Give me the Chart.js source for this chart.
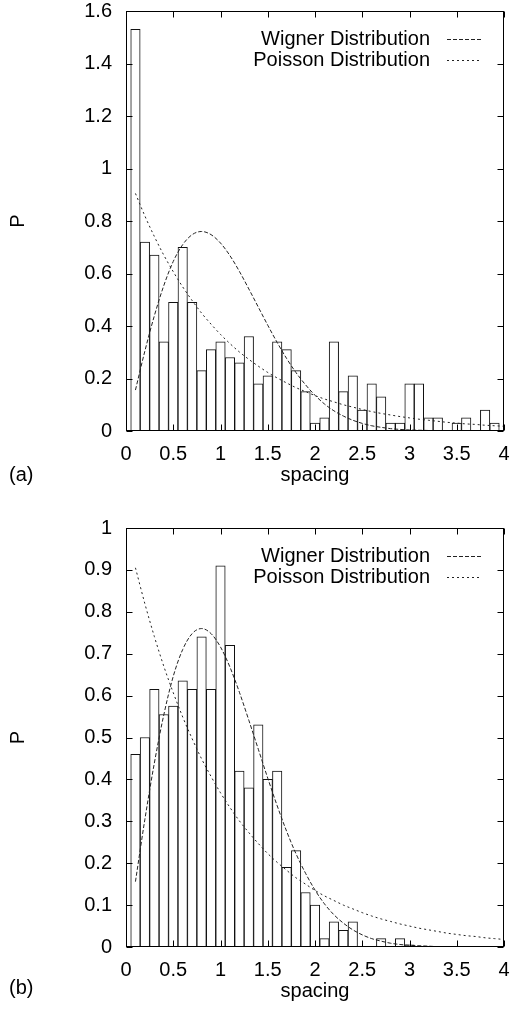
<!DOCTYPE html>
<html>
<head>
<meta charset="utf-8">
<script src="https://cdn.jsdelivr.net/npm/chart.js@4.4.1/dist/chart.umd.min.js"></script>
<style>
  body { margin: 0; background: #fff; width: 512px; height: 1011px; position: relative; overflow: hidden; }
  canvas { position: absolute; left: 0; }
  #chartA { top: 0; }
  #chartB { top: 500px; }
  .tag { position: absolute; left: 9px; font: 20px/24px "Liberation Sans", Arial, sans-serif; color: #000; }
</style>
</head>
<body>
<canvas id="chartA" width="512" height="500"></canvas>
<canvas id="chartB" width="512" height="511"></canvas>
<div class="tag" style="top:462px">(a)</div>
<div class="tag" style="top:975px">(b)</div>
<script>
// histogram bin centres (bin width 0.1)
const binCenters = [0.1, 0.2, 0.3, 0.4, 0.5, 0.6, 0.7, 0.8, 0.9, 1.0,
                    1.1, 1.2, 1.3, 1.4, 1.5, 1.6, 1.7, 1.8, 1.9, 2.0,
                    2.1, 2.2, 2.3, 2.4, 2.5, 2.6, 2.7, 2.8, 2.9, 3.0,
                    3.1, 3.2, 3.3, 3.4, 3.5, 3.6, 3.7, 3.8, 3.9];

// panel (a) histogram
const histA = [1.53, 0.72, 0.67, 0.34, 0.49, 0.70, 0.49, 0.23, 0.31, 0.34,
               0.28, 0.26, 0.36, 0.18, 0.21, 0.34, 0.31, 0.23, 0.15, 0.03,
               0.05, 0.34, 0.15, 0.21, 0.08, 0.18, 0.13, 0.03, 0.03, 0.18,
               0.18, 0.05, 0.05, 0, 0.03, 0.05, 0, 0.08, 0.03];

// panel (b) histogram
const histB = [0.46, 0.50, 0.615, 0.555, 0.575, 0.635, 0.615, 0.74, 0.615, 0.91,
               0.72, 0.42, 0.38, 0.53, 0.40, 0.42, 0.19, 0.23, 0.13, 0.10,
               0.02, 0.06, 0.04, 0.06, 0, 0, 0.02, 0, 0.02, 0.005,
               0, 0, 0, 0, 0, 0, 0, 0, 0];

// reference curves, read at spacing 0.1 .. 4.0
const curveS = [0.1, 0.2, 0.3, 0.4, 0.5, 0.6, 0.7, 0.8, 0.9, 1.0,
                1.1, 1.2, 1.3, 1.4, 1.5, 1.6, 1.7, 1.8, 1.9, 2.0,
                2.1, 2.2, 2.3, 2.4, 2.5, 2.6, 2.7, 2.8, 2.9, 3.0,
                3.1, 3.2, 3.3, 3.4, 3.5, 3.6, 3.7, 3.8, 3.9, 4.0];
const wigner = [0.156, 0.305, 0.439, 0.554, 0.646, 0.710, 0.748, 0.760, 0.748, 0.716,
                0.668, 0.608, 0.541, 0.472, 0.403, 0.337, 0.276, 0.222, 0.176, 0.136,
                0.103, 0.077, 0.057, 0.041, 0.029, 0.020, 0.014, 0.009, 0.006, 0.004,
                0.003, 0.002, 0.001, 0.001, 0, 0, 0, 0, 0, 0];
const poisson = [0.905, 0.819, 0.741, 0.670, 0.607, 0.549, 0.497, 0.449, 0.407, 0.368,
                 0.333, 0.301, 0.273, 0.247, 0.223, 0.202, 0.183, 0.165, 0.150, 0.135,
                 0.122, 0.111, 0.100, 0.091, 0.082, 0.074, 0.067, 0.061, 0.055, 0.050,
                 0.045, 0.041, 0.037, 0.033, 0.030, 0.027, 0.025, 0.022, 0.020, 0.018];

const xTicksStep = 0.5;
const legendNames = ['Wigner Distribution', 'Poisson Distribution'];
const dashes = [[4, 2], [2, 3]];

const fontFamily = '"Liberation Sans", Arial, sans-serif';
const ink = '#000';
const curveInk = '#222';

// gnuplot style numbers: 1 not 1.0
const plainNumber = v => String(Math.round(v * 100) / 100);

// frame with inward ticks, axis titles and the legend
const frameAndLegend = {
    id: 'frameAndLegend',
    afterDraw(chart) {
        const { ctx, chartArea: a, scales: { x, y } } = chart;
        const L = Math.round(a.left) + 0.5, R = Math.round(a.right) - 0.5;
        const T = Math.round(a.top) + 0.5, B = Math.round(a.bottom) - 0.5;
        ctx.save();
        ctx.strokeStyle = ink;
        ctx.lineWidth = 1;
        ctx.strokeRect(L, T, R - L, B - T);

        ctx.beginPath();
        x.ticks.forEach(t => {
            const px = Math.round(x.getPixelForValue(t.value)) + 0.5;
            ctx.moveTo(px, B); ctx.lineTo(px, B - 6);
            ctx.moveTo(px, T); ctx.lineTo(px, T + 6);
        });
        y.ticks.forEach(t => {
            const py = Math.round(y.getPixelForValue(t.value)) + 0.5;
            ctx.moveTo(L, py); ctx.lineTo(L + 6, py);
            ctx.moveTo(R, py); ctx.lineTo(R - 6, py);
        });
        ctx.stroke();

        ctx.fillStyle = ink;
        ctx.font = `20px ${fontFamily}`;
        ctx.textAlign = 'center';
        ctx.textBaseline = 'middle';
        ctx.fillText('spacing', (a.left + a.right) / 2, a.bottom + 44);

        ctx.save();
        ctx.translate(18, (a.top + a.bottom) / 2);
        ctx.rotate(-Math.PI / 2);
        ctx.fillText('P', 0, 0);
        ctx.restore();

        // legend
        ctx.textAlign = 'right';
        legendNames.forEach((name, i) => {
            const ly = a.top + 28 + i * 21;
            ctx.fillText(name, 430, ly);
            ctx.save();
            ctx.strokeStyle = curveInk;
            ctx.setLineDash(dashes[i]);
            ctx.beginPath();
            ctx.moveTo(447, Math.round(ly) + 0.5);
            ctx.lineTo(482, Math.round(ly) + 0.5);
            ctx.stroke();
            ctx.restore();
        });
        ctx.restore();
    }
};

function makeChart(id, hist, yMax, yStep, padTop, xHeight) {
    const ctx = document.getElementById(id).getContext('2d');
    return new Chart(ctx, {
        type: 'bar',
        data: {
            datasets: [
                {
                    type: 'line',
                    label: legendNames[0],
                    data: curveS.map((s, i) => ({ x: s, y: wigner[i] })),
                    borderColor: curveInk,
                    borderWidth: 1,
                    borderDash: dashes[0],
                    pointRadius: 0,
                    cubicInterpolationMode: 'monotone',
                    order: 0
                },
                {
                    type: 'line',
                    label: legendNames[1],
                    data: curveS.map((s, i) => ({ x: s, y: poisson[i] })),
                    borderColor: curveInk,
                    borderWidth: 1,
                    borderDash: dashes[1],
                    pointRadius: 0,
                    cubicInterpolationMode: 'monotone',
                    order: 0
                },
                {
                    label: 'histogram',
                    data: binCenters.map((c, i) => ({ x: c, y: hist[i] })),
                    backgroundColor: '#fff',
                    borderColor: '#111',
                    borderWidth: 1,
                    borderSkipped: false,
                    barPercentage: 1,
                    categoryPercentage: 1,
                    order: 1
                }
            ]
        },
        options: {
            responsive: false,
            animation: false,
            layout: { padding: { top: padTop, right: 8, left: 0, bottom: 0 } },
            plugins: { legend: { display: false }, tooltip: { enabled: false } },
            scales: {
                x: {
                    type: 'linear',
                    min: 0,
                    max: 4,
                    offset: false,
                    grid: { display: false, drawTicks: false, offset: false },
                    border: { display: false },
                    ticks: {
                        stepSize: xTicksStep,
                        color: ink,
                        padding: 13,
                        maxRotation: 0,
                        callback: plainNumber,
                        font: { family: fontFamily, size: 20, lineHeight: 1 }
                    },
                    afterFit(scale) {
                        scale.height = xHeight;
                        scale.paddingLeft = 0;
                        scale.paddingRight = 0;
                    }
                },
                y: {
                    min: 0,
                    max: yMax,
                    grid: { display: false, drawTicks: false },
                    border: { display: false },
                    ticks: {
                        stepSize: yStep,
                        color: ink,
                        padding: 14,
                        callback: plainNumber,
                        font: { family: fontFamily, size: 20, lineHeight: 1 }
                    },
                    afterFit(scale) {
                        scale.width = 126;
                        scale.paddingTop = 0;
                        scale.paddingBottom = 0;
                    }
                }
            }
        },
        plugins: [frameAndLegend]
    });
}

makeChart('chartA', histA, 1.6, 0.2, 11, 69);
makeChart('chartB', histB, 1, 0.1, 28, 64);
</script>
</body>
</html>
